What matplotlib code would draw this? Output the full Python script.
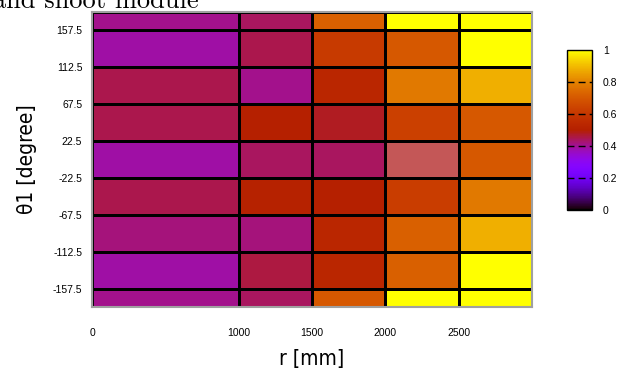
import numpy as np
import matplotlib
matplotlib.use("Agg")
import matplotlib.pyplot as plt

# bin edges
r_edges = [0, 1000, 1500, 2000, 2500, 3000]
theta_edges = [-180, -157.5, -112.5, -67.5, -22.5, 22.5, 67.5, 112.5, 157.5, 180]
x_ticks = [0, 1000, 1500, 2000, 2500]
y_ticks = [-157.5, -112.5, -67.5, -22.5, 22.5, 67.5, 112.5, 157.5]

# rows from bottom (-180) to top (+180), columns r bins
row_m180 = [0.41, 0.44, 0.70, 1.00, 1.00]
row_m135 = [0.39, 0.46, 0.53, 0.72, 1.00]
row_m90 = [0.42, 0.42, 0.53, 0.72, 0.88]
row_m45 = [0.45, 0.51, 0.50, 0.62, 0.78]
row_0 = [0.39, 0.44, 0.44, np.nan, 0.70]
row_45 = [0.45, 0.50, 0.48, 0.63, 0.70]
row_90 = [0.45, 0.41, 0.53, 0.78, 0.88]
row_135 = [0.39, 0.45, 0.61, 0.70, 1.00]
row_180 = [0.41, 0.44, 0.72, 1.00, 1.00]

z = np.ma.masked_invalid(np.array([row_m180, row_m135, row_m90, row_m45, row_0,
                                   row_45, row_90, row_135, row_180]))

cmap = plt.get_cmap("gnuplot").copy()
cmap.set_bad("#c45757")

fig = plt.figure(figsize=(6.18, 3.78), dpi=100)
ax = fig.add_axes([92 / 618, 1 - 307 / 378, 440 / 618, 295 / 378])

mesh = ax.pcolormesh(r_edges, theta_edges, z, cmap=cmap, vmin=0, vmax=1,
                     edgecolors="black", linewidth=0.9)
ax.set_xlim(0, 3000)
ax.set_ylim(-180, 180)
ax.set_xticks(x_ticks)
ax.set_xticklabels([str(v) for v in x_ticks])
ax.set_yticks(y_ticks)
ax.set_yticklabels([str(v) for v in y_ticks])
ax.tick_params(length=0, labelsize=7.5)
ax.tick_params(axis="x", pad=15)
ax.tick_params(axis="y", pad=7)
for t in ax.get_xticklabels() + ax.get_yticklabels():
    t.set_family("Liberation Sans")
for s in ax.spines.values():
    s.set_color("#a0a0a0")
    s.set_linewidth(1.5)

ax.set_xlabel("r [mm]", family="DejaVu Sans", fontstretch="condensed",
              fontsize=15, labelpad=8)
ax.set_ylabel("θ1 [degree]", family="DejaVu Sans", fontstretch="condensed",
              fontsize=15, labelpad=11)

fig.text(-0.012, 1 - 8 / 378, "and shoot module", family="cmr10", fontsize=19,
         ha="left", va="baseline")

# colour box
cax = fig.add_axes([567 / 618, 1 - 210 / 378, 25 / 618, 160 / 378])
cb = fig.colorbar(mesh, cax=cax)
cb.outline.set_linewidth(1.0)
cb.set_ticks([0, 0.2, 0.4, 0.6, 0.8, 1])
cb.set_ticklabels(["0", "0.2", "0.4", "0.6", "0.8", "1"])
cax.tick_params(length=0, labelsize=7.5, pad=8)
for t in cax.get_yticklabels():
    t.set_family("Liberation Sans")
cax.hlines([0.2, 0.4, 0.6, 0.8], 0, 1, transform=cax.get_yaxis_transform(),
           colors="black", linewidth=1.0, linestyles=(0, (5, 3)))

fig.savefig("out.png", dpi=100)
